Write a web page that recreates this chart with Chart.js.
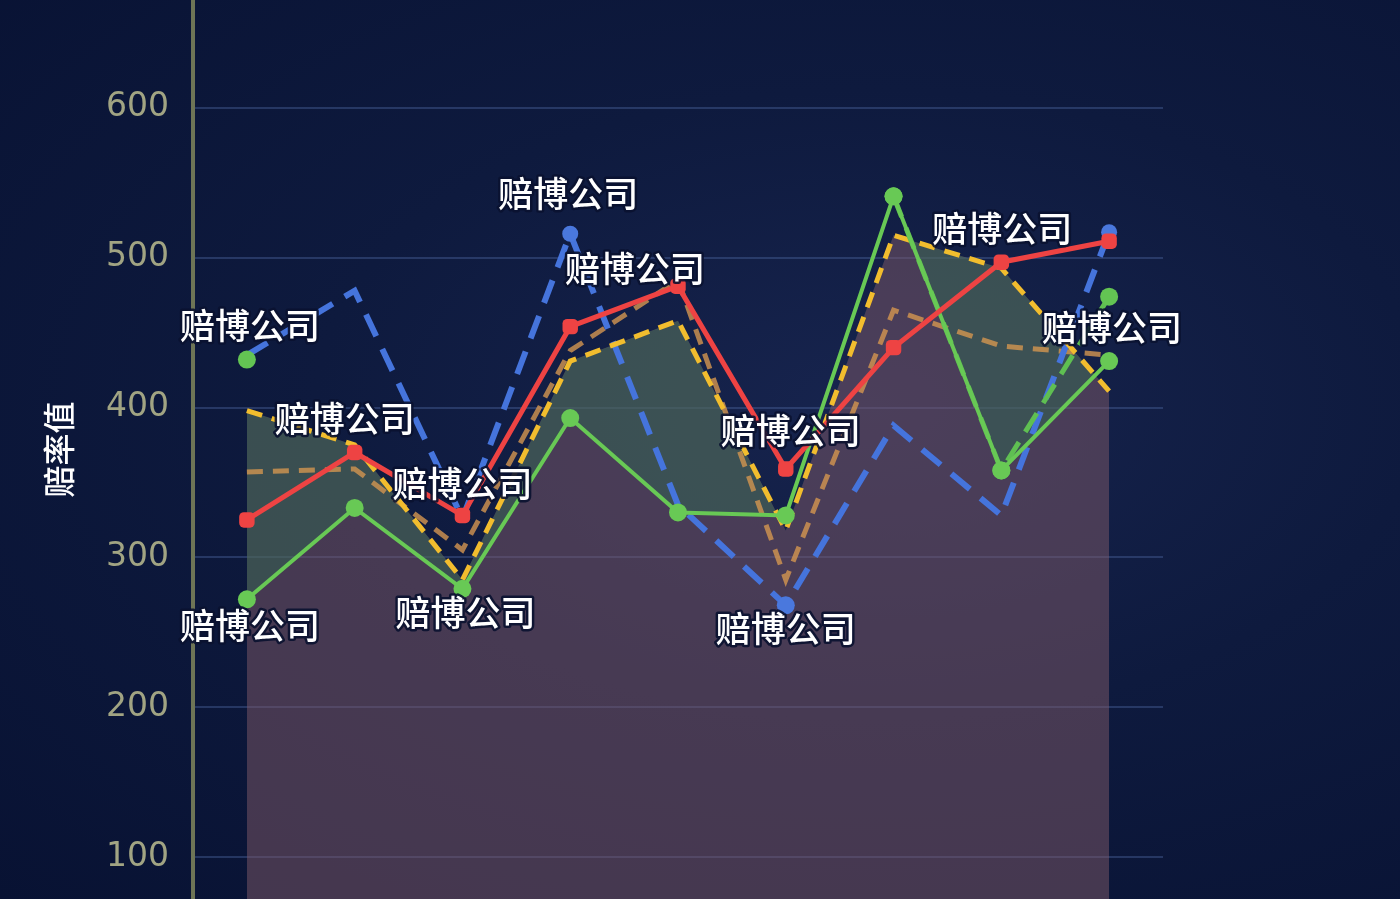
<!DOCTYPE html>
<html>
<head>
<meta charset="utf-8">
<script src="https://cdn.jsdelivr.net/npm/chart.js@4/dist/chart.umd.min.js"></script>
<style>
  html, body { margin: 0; padding: 0; }
  body {
    width: 1400px; height: 899px; overflow: hidden;
    background: radial-gradient(ellipse at 62% 45%, #17244e 0%, #0e1a3e 45%, #081233 100%);
  }
  #wrap { position: relative; width: 1400px; height: 899px; }
</style>
</head>
<body>
<div id="wrap"><canvas id="myChart" width="1400" height="899"></canvas></div>
<script>
// データ
const categories = ['1', '2', '3', '4', '5', '6', '7', '8', '9'];

const redValues    = [325, 370, 328, 454, 481, 359, 440, 497, 511];
const greenValues  = [272, 333, 279, 393, 330, 328, 541, 358, 431];
const green2Values = [432, null, null, null, null, null, 541, 358, 474];
const blueValues   = [435, 478, 326, 516, 335, 268, 388, 328, 517];
const yellowValues = [398, 375, 285, 431, 458, 318, 515, 493, 411];
const orangeValues = [357, 359, 305, 438, 485, 285, 465, 441, 435];

const yTicks = [100, 200, 300, 400, 500, 600];
const yMin = 72;
const yMax = 672;

const labelText = '赔博公司';
// 注釈: どの系列のどの点に付けるか
const noteSeries = ['green2', 'red', 'red', 'blue', 'red', 'red', 'blue', 'green', 'green', 'red', 'green2'];
const noteIndex  = [0, 1, 2, 3, 4, 5, 5, 0, 2, 7, 8];

// 注釈の描画位置のずれ (px)
const noteDx = [3, -10, 0, -2, -43, 5, 0, 3, 3, 1, 3];
const noteDy = [-34, -34, -32, -40, -17, -38, 23, 26, 24, -34, 31];

const seriesOrder = ['yellow', 'orange', 'blue', 'green2', 'green', 'red'];

const noteLabels = {
  id: 'noteLabels',
  afterDatasetsDraw(chart) {
    const ctx = chart.ctx;
    ctx.save();
    ctx.font = '500 35px "Noto Sans CJK SC", sans-serif';
    ctx.textAlign = 'center';
    ctx.textBaseline = 'middle';
    ctx.lineJoin = 'round';
    noteSeries.forEach((name, i) => {
      const dsIndex = seriesOrder.indexOf(name);
      const el = chart.getDatasetMeta(dsIndex).data[noteIndex[i]];
      if (!el) return;
      const x = el.x + noteDx[i];
      const y = el.y + noteDy[i];
      ctx.lineWidth = 5;
      ctx.strokeStyle = 'rgba(10,18,48,0.9)';
      ctx.strokeText(labelText, x, y);
      ctx.fillStyle = '#ffffff';
      ctx.fillText(labelText, x, y);
    });
    ctx.restore();
  }
};

const chart = new Chart(document.getElementById('myChart'), {
  type: 'line',
  data: {
    labels: categories,
    datasets: [
      {
        label: 'yellow',
        order: 3,
        data: yellowValues,
        borderColor: '#f2bd2e',
        borderWidth: 5,
        borderDash: [16, 10],
        pointRadius: 0,
        tension: 0,
        fill: 'origin',
        backgroundColor: 'rgba(128, 90, 104, 0.5)'
      },
      {
        label: 'orange',
        order: 5,
        data: orangeValues,
        borderColor: 'rgba(212, 150, 80, 0.8)',
        borderWidth: 5,
        borderDash: [16, 10],
        pointRadius: 0,
        tension: 0,
        fill: false
      },
      {
        label: 'blue',
        order: 4,
        data: blueValues,
        borderColor: '#4574dc',
        borderWidth: 6,
        borderDash: [24, 14],
        pointRadius: [0, 0, 0, 8, 0, 9, 0, 0, 8],
        pointBackgroundColor: '#4a78dd',
        pointBorderWidth: 0,
        tension: 0,
        fill: false
      },
      {
        label: 'green2',
        order: 2,
        data: green2Values,
        borderColor: '#5fbf52',
        borderWidth: 5,
        borderDash: [22, 12],
        pointRadius: 9,
        pointBackgroundColor: '#63c453',
        pointBorderWidth: 0,
        tension: 0,
        fill: false
      },
      {
        label: 'green',
        order: 1,
        data: greenValues,
        borderColor: '#68c955',
        borderWidth: 4,
        pointRadius: 9,
        pointBackgroundColor: '#68c955',
        pointBorderWidth: 0,
        tension: 0,
        fill: { target: 0, above: 'rgba(0,0,0,0)', below: 'rgba(40, 115, 80, 0.38)' }
      },
      {
        label: 'red',
        order: 0,
        data: redValues,
        borderColor: '#ee4343',
        borderWidth: 5,
        pointStyle: 'rectRounded',
        pointRadius: 9,
        pointBackgroundColor: '#ee4343',
        pointBorderWidth: 0,
        tension: 0,
        fill: false
      }
    ]
  },
  options: {
    responsive: false,
    animation: false,
    layout: { autoPadding: false, padding: { left: 0, right: 237, top: 0, bottom: 0 } },
    plugins: {
      legend: { display: false },
      tooltip: { enabled: false },
      filler: { drawTime: 'beforeDatasetsDraw' }
    },
    scales: {
      x: {
        display: false,
        offset: true
      },
      y: {
        min: yMin,
        max: yMax,
        afterBuildTicks: s => { s.ticks = yTicks.map(v => ({ value: v })); },
        afterFit: s => { s.width = 193; s.paddingTop = 0; s.paddingBottom = 0; },
        border: { display: true, color: '#6e7556', width: 4 },
        grid: { color: 'rgba(70, 95, 150, 0.45)', lineWidth: 2, drawTicks: false },
        ticks: {
          color: '#a1a483',
          padding: 24,
          font: { family: 'DejaVu Sans', size: 33 }
        },
        title: {
          display: true,
          text: '赔率值',
          color: '#ffffff',
          padding: { top: 40, bottom: 0 },
          font: { family: '"Noto Sans CJK SC"', size: 32, weight: '500' }
        }
      }
    }
  },
  plugins: [noteLabels]
});
</script>
</body>
</html>
